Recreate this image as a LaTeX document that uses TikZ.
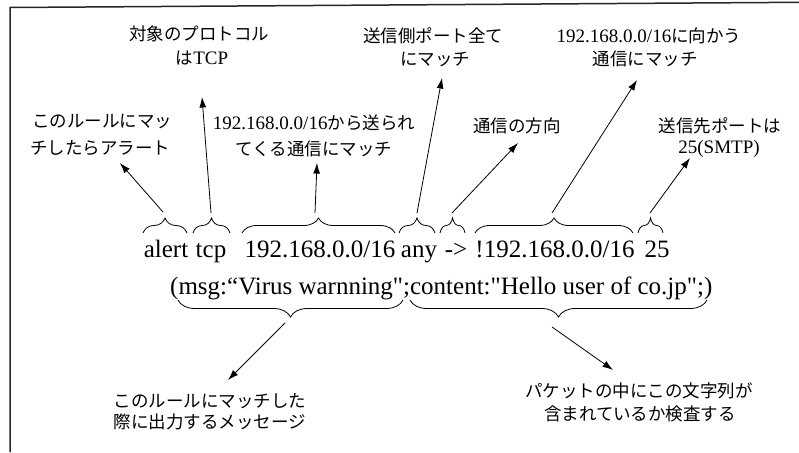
\documentclass[tikz,border=0pt]{standalone}
\usepackage{fontspec}
\setmainfont{Liberation Serif}
\newfontfamily\rawserif{Liberation Serif}
\newfontfamily\jp{Noto Sans CJK JP}
\usetikzlibrary{decorations.pathreplacing,arrows.meta}
\newcommand\latn[1]{{\rmfamily\fontsize{19}{22}\selectfont #1}}
\begin{document}
\begin{tikzpicture}[x=1pt,y=-1pt,
  main/.style={anchor=base,inner sep=0pt,font=\fontsize{25}{30}\selectfont},
  lbl/.style={anchor=base,inner sep=0pt,font=\fontsize{17.5}{22}\selectfont\jp},
  brcu/.style={decorate,decoration={brace,amplitude=15pt},line width=0.8pt},
  brcd/.style={decorate,decoration={brace,amplitude=17pt,mirror},line width=0.8pt},
  arr/.style={-{Latex[length=10.5pt,width=7pt]},line width=0.8pt},
  frame/.style={line width=1.5pt,black!85}
]
\useasboundingbox (0,0) rectangle (799,452);
% frame
\draw[frame] (10,452) -- (10,7.5) -- (799,2.3);

% main rule, line 1
\node[main] (t1) at (166,257) {alert};
\node[main] (t2) at (211,257) {tcp};
\node[main] (t3) at (320,257) {192.168.0.0/16};
\node[main] (t4) at (419,257) {any};
\node[main] (t5) at (456,257) {->};
\node[main] (t6) at (555,257) {!192.168.0.0/16};
\node[main] (t7) at (657,257) {25};
% line 2
\node[main,anchor=base west,font=\fontsize{25}{30}\selectfont\rawserif] (opts) at (170,294) {(msg:“Virus warnning";content:"Hello user of co.jp";)};

% braces above line 1
\draw[brcu] (143,233) -- (187,233);
\draw[brcu] (193,233) -- (230,233);
\draw[brcu] (242,233) -- (395,233);
\draw[brcu] (399,233) -- (435,233);
\draw[brcu] (440,233) -- (465,233);
\draw[brcu] (475,233) -- (633,233);
\draw[brcu] (638,233) -- (663,233);
% braces below line 2
\draw[brcd] (178,300) -- (403,300);
\draw[brcd] (410,300) -- (707,300);

% labels (top)
\node[lbl] (la1) at (102,127) {このルールにマッ};
\node[lbl] (la2) at (100,154) {チしたらアラート};
\node[lbl] (lb1) at (199,41) {対象のプロトコル};
\node[lbl] (lb2) at (202,64) {は\latn{TCP}};
\node[lbl] (lc1) at (314,129) {\latn{192.168.0.0/16}から送られ};
\node[lbl] (lc2) at (314,155) {てくる通信にマッチ};
\node[lbl] (ld1) at (433,42) {送信側ポート全て};
\node[lbl] (ld2) at (435,65) {にマッチ};
\node[lbl] (le1) at (517,132) {通信の方向};
\node[lbl] (lf1) at (649,42) {\latn{192.168.0.0/16}に向かう};
\node[lbl] (lf2) at (645,65) {通信にマッチ};
\node[lbl] (lg1) at (720,132) {送信先ポートは};
\node[lbl] (lg2) at (719,153) {\latn{25(SMTP)}};
% labels (bottom)
\node[lbl] (lh1) at (210,407) {このルールにマッチした};
\node[lbl] (lh2) at (210,428) {際に出力するメッセージ};
\node[lbl] (li1) at (639,397) {パケットの中にこの文字列が};
\node[lbl] (li2) at (640,420) {含まれているか検査する};

% arrow end points
\coordinate (s1) at (163,212); \coordinate (e1) at (120,163);
\coordinate (s2) at (211,213); \coordinate (e2) at (202,97);
\coordinate (s3) at (315,213); \coordinate (e3) at (317,163);
\coordinate (s4) at (417,213); \coordinate (e4) at (442,78);
\coordinate (s5) at (452,213); \coordinate (e5) at (518,143);
\coordinate (s6) at (552,213); \coordinate (e6) at (637,80);
\coordinate (s7) at (650,213); \coordinate (e7) at (690,158);
\coordinate (s8) at (285,323); \coordinate (e8) at (228,380);
\coordinate (s9) at (552,327); \coordinate (e9) at (613,370);

\foreach \i in {1,...,9} \draw[arr] (s\i) -- (e\i);
\end{tikzpicture}
\end{document}
